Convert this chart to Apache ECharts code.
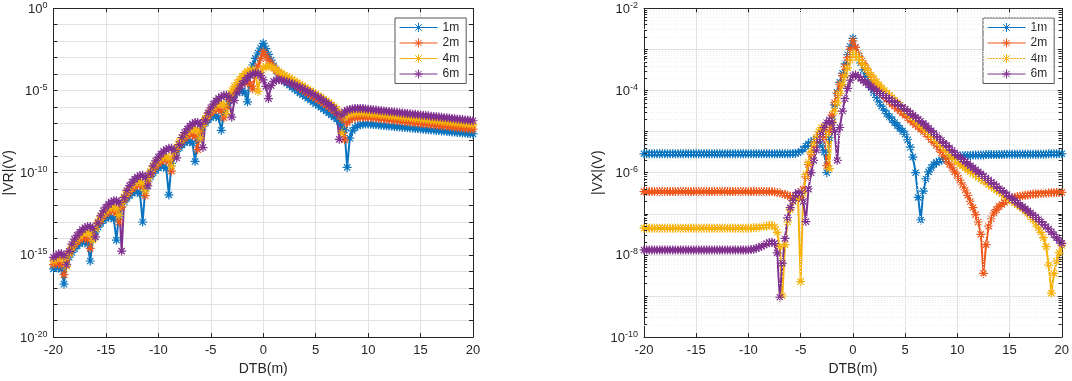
<!DOCTYPE html>
<html>
<head>
<meta charset="utf-8">
<script src="https://cdn.jsdelivr.net/npm/echarts@6/dist/echarts.min.js"></script>
<style>
html, body { margin: 0; padding: 0; background: #fff; }
#chart { width: 1072px; height: 381px; }
</style>
</head>
<body>
<div id="chart"></div>
<script>
// distance to bed boundary (m), same sampling for every curve
var dtb = [
  -20, -19.75, -19.5, -19.25, -19, -18.75, -18.5, -18.25,
  -18, -17.75, -17.5, -17.25, -17, -16.75, -16.5, -16.25,
  -16, -15.75, -15.5, -15.25, -15, -14.75, -14.5, -14.25,
  -14, -13.75, -13.5, -13.25, -13, -12.75, -12.5, -12.25,
  -12, -11.75, -11.5, -11.25, -11, -10.75, -10.5, -10.25,
  -10, -9.75, -9.5, -9.25, -9, -8.75, -8.5, -8.25,
  -8, -7.75, -7.5, -7.25, -7, -6.75, -6.5, -6.25,
  -6, -5.75, -5.5, -5.25, -5, -4.75, -4.5, -4.25,
  -4, -3.75, -3.5, -3.25, -3, -2.75, -2.5, -2.25,
  -2, -1.75, -1.5, -1.25, -1, -0.75, -0.5, -0.25,
  0, 0.25, 0.5, 0.75, 1, 1.25, 1.5, 1.75,
  2, 2.25, 2.5, 2.75, 3, 3.25, 3.5, 3.75,
  4, 4.25, 4.5, 4.75, 5, 5.25, 5.5, 5.75,
  6, 6.25, 6.5, 6.75, 7, 7.25, 7.5, 7.75,
  8, 8.25, 8.5, 8.75, 9, 9.25, 9.5, 9.75,
  10, 10.25, 10.5, 10.75, 11, 11.25, 11.5, 11.75,
  12, 12.25, 12.5, 12.75, 13, 13.25, 13.5, 13.75,
  14, 14.25, 14.5, 14.75, 15, 15.25, 15.5, 15.75,
  16, 16.25, 16.5, 16.75, 17, 17.25, 17.5, 17.75,
  18, 18.25, 18.5, 18.75, 19, 19.25, 19.5, 19.75,
  20
];

// |VR| in volts, stored as log10 values
var vr1m = [
  -15.85, -15.77, -15.75, -15.88, -16.78, -15.57, -15.14, -14.85,
  -14.62, -14.45, -14.32, -14.23, -14.22, -14.34, -15.37, -14.04,
  -13.60, -13.31, -13.09, -12.91, -12.78, -12.70, -12.68, -12.81,
  -14.10, -12.50, -12.07, -11.78, -11.55, -11.38, -11.25, -11.16,
  -11.15, -11.27, -13.00, -10.97, -10.53, -10.24, -10.02, -9.84,
  -9.71, -9.63, -9.61, -9.74, -11.35, -9.43, -9.00, -8.70,
  -8.48, -8.31, -8.17, -8.09, -8.08, -8.20, -9.31, -7.90,
  -7.46, -7.17, -6.95, -6.77, -6.64, -6.56, -6.54, -6.67,
  -7.42, -6.36, -5.93, -5.64, -5.41, -5.24, -5.11, -5.02,
  -5.01, -5.14, -5.69, -3.95, -3.45, -3.05, -2.72, -2.42,
  -2.13, -2.45, -2.80, -3.15, -3.50, -3.80, -4.05, -4.25,
  -4.42, -4.56, -4.68, -4.80, -4.92, -5.03, -5.14, -5.25,
  -5.36, -5.47, -5.58, -5.69, -5.80, -5.91, -6.02, -6.13,
  -6.24, -6.36, -6.48, -6.60, -6.73, -6.88, -7.05, -7.40,
  -9.68, -7.90, -7.45, -7.25, -7.14, -7.08, -7.05, -7.04,
  -7.04, -7.05, -7.07, -7.08, -7.10, -7.11, -7.13, -7.14,
  -7.16, -7.17, -7.19, -7.20, -7.22, -7.23, -7.25, -7.26,
  -7.28, -7.29, -7.31, -7.32, -7.34, -7.35, -7.37, -7.38,
  -7.40, -7.41, -7.43, -7.44, -7.46, -7.47, -7.49, -7.50,
  -7.52, -7.53, -7.55, -7.56, -7.58, -7.59, -7.61, -7.62,
  -7.64
];
var vr2m = [
  -15.59, -15.51, -15.49, -15.62, -16.20, -15.31, -14.88, -14.59,
  -14.36, -14.19, -14.06, -13.97, -13.96, -14.08, -14.60, -13.82,
  -13.38, -13.08, -12.85, -12.65, -12.50, -12.39, -12.31, -12.31,
  -12.44, -13.00, -12.09, -11.66, -11.36, -11.14, -10.97, -10.83,
  -10.75, -10.73, -10.86, -11.40, -10.55, -10.12, -9.83, -9.60,
  -9.43, -9.30, -9.21, -9.20, -9.33, -9.90, -9.02, -8.58,
  -8.29, -8.07, -7.89, -7.76, -7.68, -7.66, -7.79, -8.60,
  -7.48, -7.05, -6.76, -6.53, -6.36, -6.23, -6.14, -6.13,
  -6.26, -6.66, -5.99, -5.56, -5.25, -5.02, -4.83, -4.67,
  -4.56, -4.49, -4.48, -4.61, -4.90, -3.95, -3.50, -3.07,
  -2.64, -2.90, -3.15, -3.38, -3.60, -3.80, -3.97, -4.12,
  -4.25, -4.36, -4.46, -4.56, -4.66, -4.76, -4.86, -4.96,
  -5.06, -5.16, -5.26, -5.36, -5.46, -5.56, -5.66, -5.76,
  -5.87, -5.98, -6.10, -6.22, -6.36, -6.52, -6.75, -8.00,
  -6.95, -6.78, -6.70, -6.66, -6.64, -6.63, -6.62, -6.62,
  -6.62, -6.64, -6.66, -6.68, -6.70, -6.71, -6.73, -6.75,
  -6.77, -6.79, -6.81, -6.82, -6.84, -6.86, -6.88, -6.90,
  -6.92, -6.93, -6.95, -6.97, -6.99, -7.01, -7.03, -7.04,
  -7.06, -7.08, -7.10, -7.12, -7.14, -7.15, -7.17, -7.19,
  -7.21, -7.23, -7.25, -7.26, -7.28, -7.30, -7.32, -7.34,
  -7.35
];
var vr4m = [
  -15.37, -15.24, -15.15, -15.14, -15.27, -15.70, -14.96, -14.53,
  -14.23, -14.01, -13.84, -13.70, -13.62, -13.60, -13.73, -14.10,
  -13.42, -12.99, -12.70, -12.47, -12.30, -12.17, -12.08, -12.07,
  -12.20, -12.60, -11.89, -11.46, -11.16, -10.94, -10.77, -10.63,
  -10.55, -10.53, -10.66, -11.10, -10.35, -9.92, -9.63, -9.40,
  -9.23, -9.10, -9.01, -9.00, -9.13, -9.60, -8.86, -8.42,
  -8.12, -7.89, -7.69, -7.54, -7.43, -7.35, -7.35, -7.48,
  -7.90, -7.13, -6.70, -6.40, -6.18, -6.01, -5.87, -5.79,
  -5.78, -5.90, -6.40, -5.30, -5.00, -4.75, -4.53, -4.33,
  -4.14, -3.97, -3.84, -3.76, -3.75, -3.85, -5.05, -3.90,
  -3.62, -3.55, -3.53, -3.56, -3.64, -3.74, -3.85, -3.96,
  -4.06, -4.15, -4.24, -4.33, -4.42, -4.52, -4.62, -4.72,
  -4.82, -4.92, -5.02, -5.12, -5.22, -5.32, -5.42, -5.52,
  -5.63, -5.74, -5.86, -5.99, -6.14, -6.35, -7.60, -6.60,
  -6.48, -6.42, -6.39, -6.37, -6.36, -6.36, -6.36, -6.37,
  -6.38, -6.40, -6.42, -6.43, -6.45, -6.47, -6.48, -6.50,
  -6.52, -6.54, -6.55, -6.57, -6.59, -6.61, -6.62, -6.64,
  -6.66, -6.68, -6.69, -6.71, -6.73, -6.75, -6.76, -6.78,
  -6.80, -6.82, -6.83, -6.85, -6.87, -6.89, -6.90, -6.92,
  -6.94, -6.96, -6.97, -6.99, -7.01, -7.03, -7.04, -7.06,
  -7.07
];
var vr6m = [
  -15.15, -15.02, -14.93, -14.92, -15.05, -15.60, -14.78, -14.35,
  -14.04, -13.81, -13.62, -13.46, -13.35, -13.27, -13.27, -13.40,
  -13.90, -13.05, -12.62, -12.32, -12.10, -11.93, -11.79, -11.71,
  -11.70, -11.82, -14.77, -11.52, -11.08, -10.79, -10.57, -10.39,
  -10.26, -10.17, -10.16, -10.29, -10.80, -10.02, -9.59, -9.28,
  -9.05, -8.86, -8.70, -8.59, -8.52, -8.51, -8.64, -9.10,
  -8.29, -7.86, -7.56, -7.34, -7.17, -7.03, -6.95, -6.94,
  -7.06, -8.47, -6.80, -6.36, -6.06, -5.83, -5.63, -5.48,
  -5.37, -5.29, -5.29, -5.42, -6.62, -5.60, -5.15, -4.85,
  -4.60, -4.40, -4.22, -4.08, -3.98, -3.94, -3.97, -4.10,
  -4.35, -4.75, -5.49, -4.70, -4.45, -4.36, -4.35, -4.38,
  -4.42, -4.47, -4.53, -4.60, -4.67, -4.74, -4.81, -4.89,
  -4.97, -5.05, -5.14, -5.23, -5.32, -5.42, -5.52, -5.63,
  -5.74, -5.86, -5.98, -6.12, -6.40, -7.97, -6.50, -6.30,
  -6.20, -6.15, -6.12, -6.10, -6.09, -6.09, -6.10, -6.12,
  -6.14, -6.16, -6.17, -6.19, -6.21, -6.23, -6.24, -6.26,
  -6.28, -6.30, -6.31, -6.33, -6.35, -6.37, -6.38, -6.40,
  -6.42, -6.44, -6.45, -6.47, -6.49, -6.51, -6.52, -6.54,
  -6.56, -6.58, -6.59, -6.61, -6.63, -6.65, -6.66, -6.68,
  -6.70, -6.72, -6.73, -6.75, -6.77, -6.79, -6.80, -6.82,
  -6.84
];

// |VX| in volts, log10 values
var vx1m = [
  -5.54, -5.54, -5.54, -5.54, -5.54, -5.54, -5.54, -5.54,
  -5.54, -5.54, -5.54, -5.54, -5.54, -5.54, -5.54, -5.54,
  -5.54, -5.54, -5.54, -5.54, -5.54, -5.54, -5.54, -5.54,
  -5.54, -5.54, -5.54, -5.54, -5.54, -5.54, -5.54, -5.54,
  -5.54, -5.54, -5.54, -5.54, -5.54, -5.54, -5.54, -5.54,
  -5.54, -5.54, -5.54, -5.54, -5.54, -5.54, -5.54, -5.54,
  -5.54, -5.54, -5.54, -5.54, -5.54, -5.54, -5.54, -5.54,
  -5.54, -5.53, -5.53, -5.51, -5.48, -5.43, -5.36, -5.30,
  -5.25, -5.22, -5.20, -5.25, -5.35, -5.50, -6.00, -5.15,
  -4.70, -4.35, -4.05, -3.80, -3.58, -3.35, -3.13, -2.93,
  -2.73, -2.95, -3.15, -3.33, -3.50, -3.66, -3.80, -3.93,
  -4.05, -4.17, -4.28, -4.38, -4.48, -4.56, -4.64, -4.71,
  -4.78, -4.85, -4.92, -4.99, -5.06, -5.20, -5.38, -5.62,
  -6.00, -6.60, -7.15, -6.45, -6.15, -5.98, -5.88, -5.80,
  -5.75, -5.72, -5.69, -5.67, -5.65, -5.63, -5.62, -5.61,
  -5.60, -5.59, -5.59, -5.58, -5.58, -5.58, -5.57, -5.57,
  -5.57, -5.57, -5.57, -5.56, -5.56, -5.56, -5.56, -5.56,
  -5.56, -5.56, -5.55, -5.55, -5.55, -5.55, -5.55, -5.55,
  -5.55, -5.55, -5.55, -5.55, -5.55, -5.55, -5.55, -5.55,
  -5.55, -5.55, -5.55, -5.54, -5.54, -5.54, -5.54, -5.54,
  -5.54
];
var vx2m = [
  -6.46, -6.46, -6.46, -6.46, -6.46, -6.46, -6.46, -6.46,
  -6.46, -6.46, -6.46, -6.46, -6.46, -6.46, -6.46, -6.46,
  -6.46, -6.46, -6.46, -6.46, -6.46, -6.46, -6.46, -6.46,
  -6.46, -6.46, -6.46, -6.46, -6.46, -6.46, -6.46, -6.46,
  -6.46, -6.46, -6.46, -6.46, -6.46, -6.46, -6.46, -6.46,
  -6.46, -6.46, -6.46, -6.46, -6.46, -6.46, -6.46, -6.46,
  -6.46, -6.46, -6.47, -6.48, -6.49, -6.51, -6.53, -6.55,
  -6.57, -6.60, -6.62, -6.63, -6.60, -6.40, -6.10, -5.80,
  -5.55, -5.35, -5.20, -5.08, -5.00, -5.15, -5.83, -5.00,
  -4.60, -4.30, -4.07, -3.85, -3.64, -3.42, -3.20, -3.00,
  -2.79, -2.95, -3.10, -3.22, -3.34, -3.45, -3.55, -3.68,
  -3.80, -3.91, -4.02, -4.09, -4.15, -4.21, -4.27, -4.33,
  -4.38, -4.44, -4.49, -4.55, -4.60, -4.66, -4.72, -4.77,
  -4.83, -4.88, -4.94, -5.00, -5.05, -5.12, -5.19, -5.26,
  -5.33, -5.42, -5.51, -5.60, -5.70, -5.79, -5.88, -5.98,
  -6.07, -6.18, -6.30, -6.42, -6.55, -6.70, -6.85, -7.02,
  -7.20, -7.50, -8.45, -7.75, -7.30, -7.12, -6.98, -6.90,
  -6.82, -6.77, -6.72, -6.68, -6.64, -6.62, -6.60, -6.58,
  -6.57, -6.56, -6.55, -6.54, -6.53, -6.52, -6.52, -6.51,
  -6.50, -6.50, -6.50, -6.49, -6.49, -6.49, -6.48, -6.48,
  -6.48
];
var vx4m = [
  -7.35, -7.35, -7.35, -7.35, -7.35, -7.35, -7.35, -7.35,
  -7.35, -7.35, -7.35, -7.35, -7.35, -7.35, -7.35, -7.35,
  -7.35, -7.35, -7.35, -7.35, -7.35, -7.35, -7.35, -7.35,
  -7.35, -7.35, -7.35, -7.35, -7.35, -7.35, -7.35, -7.35,
  -7.35, -7.35, -7.35, -7.35, -7.35, -7.35, -7.35, -7.35,
  -7.35, -7.35, -7.34, -7.34, -7.33, -7.32, -7.31, -7.30,
  -7.28, -7.28, -7.32, -7.45, -7.80, -9.00, -7.75, -7.20,
  -6.90, -6.70, -6.58, -6.62, -8.65, -6.50, -6.05, -5.75,
  -5.50, -5.30, -5.15, -5.00, -4.90, -4.88, -5.05, -5.90,
  -4.75, -4.50, -4.30, -4.07, -3.85, -3.65, -3.45, -3.26,
  -3.09, -3.13, -3.20, -3.28, -3.37, -3.46, -3.55, -3.63,
  -3.71, -3.79, -3.87, -3.94, -4.00, -4.06, -4.12, -4.18,
  -4.24, -4.30, -4.36, -4.42, -4.48, -4.54, -4.60, -4.66,
  -4.72, -4.78, -4.84, -4.90, -4.96, -5.02, -5.08, -5.14,
  -5.20, -5.27, -5.34, -5.41, -5.48, -5.55, -5.62, -5.68,
  -5.74, -5.79, -5.84, -5.88, -5.93, -5.97, -6.02, -6.06,
  -6.11, -6.15, -6.20, -6.24, -6.29, -6.33, -6.38, -6.42,
  -6.46, -6.51, -6.55, -6.60, -6.64, -6.69, -6.73, -6.78,
  -6.82, -6.87, -6.92, -6.99, -7.06, -7.14, -7.24, -7.34,
  -7.45, -7.58, -7.80, -8.25, -8.93, -8.45, -8.15, -7.95,
  -7.77
];
var vx6m = [
  -7.88, -7.88, -7.88, -7.88, -7.88, -7.88, -7.88, -7.88,
  -7.88, -7.88, -7.88, -7.88, -7.88, -7.88, -7.88, -7.88,
  -7.88, -7.88, -7.88, -7.88, -7.88, -7.88, -7.88, -7.88,
  -7.88, -7.88, -7.88, -7.88, -7.88, -7.88, -7.88, -7.88,
  -7.88, -7.88, -7.88, -7.88, -7.88, -7.88, -7.88, -7.88,
  -7.88, -7.87, -7.86, -7.84, -7.82, -7.79, -7.76, -7.73,
  -7.70, -7.69, -7.72, -7.95, -9.03, -8.20, -7.60, -7.10,
  -6.85, -6.68, -6.55, -6.48, -6.50, -6.70, -7.19, -6.40,
  -6.00, -5.70, -5.45, -5.22, -5.05, -4.90, -4.78, -4.72,
  -4.78, -5.00, -5.70, -4.90, -4.50, -4.20, -3.95, -3.75,
  -3.64, -3.62, -3.66, -3.71, -3.76, -3.81, -3.86, -3.91,
  -3.96, -4.00, -4.05, -4.09, -4.13, -4.17, -4.21, -4.25,
  -4.29, -4.33, -4.37, -4.41, -4.45, -4.50, -4.55, -4.60,
  -4.65, -4.70, -4.75, -4.80, -4.86, -4.92, -4.98, -5.04,
  -5.10, -5.16, -5.22, -5.28, -5.34, -5.40, -5.46, -5.52,
  -5.58, -5.63, -5.68, -5.73, -5.78, -5.83, -5.88, -5.93,
  -5.98, -6.03, -6.08, -6.13, -6.18, -6.23, -6.28, -6.33,
  -6.38, -6.43, -6.48, -6.53, -6.58, -6.63, -6.68, -6.73,
  -6.78, -6.83, -6.88, -6.93, -6.98, -7.03, -7.08, -7.13,
  -7.19, -7.25, -7.31, -7.37, -7.44, -7.51, -7.58, -7.65,
  -7.72
];

var names = ['1m', '2m', '4m', '6m'];
var colors = ['#0a74c0', '#ee581c', '#f6b20a', '#80308f'];

var font = "'Liberation Sans', Arial, Helvetica, sans-serif";
var ink = '#262626';
// matlab style "*" marker, and the same marker on a short line for the legend
var star = 'path://M10 0L10 20M0 10L20 10M3 3L17 17M17 3L3 17';
var legendIcon = 'path://M0 4.5L38 4.5M19 0L19 9M14.5 4.5L23.5 4.5M15.8 1.3L22.2 7.7M22.2 1.3L15.8 7.7';

function makeSeries(name, ys, color, xi, yi) {
    return {
        name: name,
        type: 'line',
        xAxisIndex: xi,
        yAxisIndex: yi,
        data: ys.map(function (v, i) { return [dtb[i], v]; }),
        symbol: star,
        symbolSize: 9,
        showSymbol: true,
        lineStyle: { color: color, width: 2 },
        itemStyle: { color: color, borderColor: color, borderWidth: 1.2 },
        emphasis: { disabled: true },
        z: 3
    };
}

function powLabel(step) {
    return function (v) {
        var e = Math.round(v);
        return e % step === 0 ? '{b|10}{s|' + e + '}' : '';
    };
}

var richPow = {
    b: { fontSize: 13, color: ink, fontFamily: font, verticalAlign: 'bottom' },
    s: { fontSize: 9, color: ink, fontFamily: font, verticalAlign: 'bottom', padding: [0, 0, 6, 0] }
};

function xAxisOf(grid, pos) {
    var bottom = pos === 'bottom';
    return {
        gridIndex: grid,
        type: 'value',
        position: pos,
        min: -20,
        max: 20,
        interval: 5,
        axisLine: { show: true, onZero: false, lineStyle: { color: ink, width: 1 } },
        axisTick: { show: true, inside: true, length: 4, lineStyle: { color: ink } },
        axisLabel: { show: bottom, color: ink, fontSize: 13, fontFamily: font, margin: 7 },
        splitLine: { show: bottom, lineStyle: { color: '#e2e2e2', width: 1 } },
        name: bottom ? 'DTB(m)' : '',
        nameLocation: 'middle',
        nameGap: 24,
        nameTextStyle: { color: ink, fontSize: 14, fontFamily: font }
    };
}

function yAxisOf(grid, pos, lo, hi, step, title, gap) {
    var left = pos === 'left';
    return {
        gridIndex: grid,
        type: 'value',
        position: pos,
        min: lo,
        max: hi,
        interval: 1,
        axisLine: { show: true, onZero: false, lineStyle: { color: ink, width: 1 } },
        axisTick: { show: true, inside: true, length: 4, lineStyle: { color: ink } },
        axisLabel: { show: left, formatter: powLabel(step), rich: richPow, margin: 6 },
        splitLine: { show: left, lineStyle: { color: '#e2e2e2', width: 1 } },
        name: left ? title : '',
        nameLocation: 'middle',
        nameGap: gap,
        nameTextStyle: { color: ink, fontSize: 14, fontFamily: font }
    };
}

// minor log grid and minor ticks for the |VX| plot
var minorGrid = [];
var minorTicks = [];
for (var e = -10; e < -2; e++) {
    for (var m = 2; m <= 9; m++) {
        var y = e + Math.log10(m);
        minorGrid.push({ yAxis: y });
        minorTicks.push([{ coord: [-20, y] }, { coord: [-19.7, y] }]);
        minorTicks.push([{ coord: [19.7, y] }, { coord: [20, y] }]);
    }
}

var series = [
    {
        type: 'line', xAxisIndex: 2, yAxisIndex: 2, data: [], silent: true, z: 1,
        markLine: {
            silent: true, symbol: ['none', 'none'], label: { show: false },
            lineStyle: { color: '#ececec', type: [1, 2], width: 1 },
            data: minorGrid
        }
    },
    {
        type: 'line', xAxisIndex: 2, yAxisIndex: 2, data: [], silent: true, z: 4,
        markLine: {
            silent: true, symbol: ['none', 'none'], label: { show: false },
            lineStyle: { color: ink, type: 'solid', width: 1 },
            data: minorTicks
        }
    }
];
[vr1m, vr2m, vr4m, vr6m].forEach(function (ys, i) {
    series.push(makeSeries(names[i], ys, colors[i], 0, 0));
});
[vx1m, vx2m, vx4m, vx6m].forEach(function (ys, i) {
    series.push(makeSeries(names[i], ys, colors[i], 2, 2));
});

function legendAt(left) {
    return {
        data: names.map(function (n) { return { name: n, icon: legendIcon }; }),
        orient: 'vertical',
        left: left,
        top: 18,
        selectedMode: false,
        itemWidth: 38,
        itemHeight: 9,
        itemGap: 2.5,
        padding: [3, 7, 3, 4],
        backgroundColor: '#fff',
        borderColor: '#555',
        borderWidth: 1,
        borderRadius: 0,
        itemStyle: { borderWidth: 1 },
        textStyle: { color: ink, fontSize: 12, fontFamily: font, lineHeight: 13 }
    };
}

var chart = echarts.init(document.getElementById('chart'), null, { renderer: 'canvas' });
chart.setOption({
    animation: false,
    backgroundColor: '#fff',
    grid: [
        { left: 53.5, top: 8.3, width: 419.5, height: 331 },
        { left: 644, top: 8.3, width: 418.5, height: 331 }
    ],
    xAxis: [
        xAxisOf(0, 'bottom'), xAxisOf(0, 'top'),
        xAxisOf(1, 'bottom'), xAxisOf(1, 'top')
    ],
    yAxis: [
        yAxisOf(0, 'left', -20, 0, 5, '|VR|(V)', 36),
        yAxisOf(0, 'right', -20, 0, 5, '', 0),
        yAxisOf(1, 'left', -10, -2, 2, '|VX|(V)', 39),
        yAxisOf(1, 'right', -10, -2, 2, '', 0)
    ],
    legend: [legendAt(395), legendAt(983)],
    series: series
});
</script>
</body>
</html>
